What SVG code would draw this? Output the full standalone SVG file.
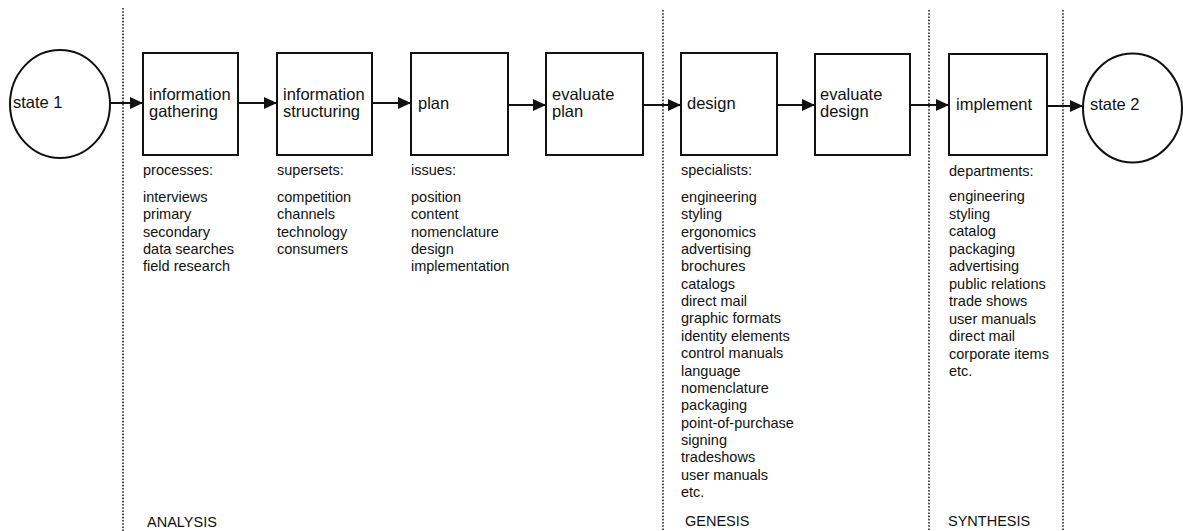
<svg xmlns="http://www.w3.org/2000/svg" width="1183" height="531" viewBox="0 0 1183 531">
<style>
  .shape { fill: #fff; stroke: #111; stroke-width: 2; }
  .lbl { font-family: "Liberation Sans", Arial, sans-serif; font-size: 16.5px; fill: #111; }
  .sm { font-family: "Liberation Sans", Arial, sans-serif; font-size: 14.5px; fill: #111; }
  .conn { stroke: #111; stroke-width: 2.2; fill: none; marker-end: url(#arr); }
  .dot { stroke: #222; stroke-width: 1.6; stroke-dasharray: 1.6 1.6; fill: none; }
</style>
<defs>
  <marker id="arr" markerUnits="userSpaceOnUse" viewBox="0 0 13 12" refX="13" refY="6" markerWidth="13" markerHeight="12" orient="auto">
    <path d="M0,0 L13,6 L0,12 z" fill="#111"/>
  </marker>
</defs>
<rect width="1183" height="531" fill="#fff"/>

<g id="dividers">
  <line class="dot" x1="123" y1="8" x2="123" y2="531"/>
  <line class="dot" x1="663" y1="10" x2="663" y2="531"/>
  <line class="dot" x1="929" y1="10" x2="929" y2="531"/>
  <line class="dot" x1="1063" y1="10" x2="1063" y2="531"/>
</g>

<g id="connectors">
  <line class="conn" x1="110" y1="103" x2="143" y2="103"/>
  <line class="conn" x1="238" y1="103" x2="277" y2="103"/>
  <line class="conn" x1="372" y1="103" x2="411" y2="103"/>
  <line class="conn" x1="508" y1="105" x2="546" y2="105"/>
  <line class="conn" x1="643" y1="105" x2="681" y2="105"/>
  <line class="conn" x1="777" y1="105" x2="815" y2="105"/>
  <line class="conn" x1="910" y1="105" x2="949" y2="105"/>
  <line class="conn" x1="1047" y1="106" x2="1083" y2="106"/>
</g>

<g id="state1">
  <ellipse class="shape" cx="60" cy="104" rx="50" ry="54"/>
  <text class="lbl" x="13" y="108">state 1</text>
</g>

<g id="info-gathering">
  <rect class="shape" x="143" y="53" width="95" height="102"/>
  <text class="lbl" x="149" y="100">information</text>
  <text class="lbl" x="149" y="117">gathering</text>
  <text class="sm" x="143" y="175">processes:</text>
  <text class="sm" x="143" y="202">
    <tspan x="143">interviews</tspan>
    <tspan x="143" dy="17.35">primary</tspan>
    <tspan x="143" dy="17.35">secondary</tspan>
    <tspan x="143" dy="17.35">data searches</tspan>
    <tspan x="143" dy="17.35">field research</tspan>
  </text>
</g>

<g id="info-structuring">
  <rect class="shape" x="277" y="53" width="95" height="102"/>
  <text class="lbl" x="283" y="100">information</text>
  <text class="lbl" x="283" y="117">structuring</text>
  <text class="sm" x="277" y="175">supersets:</text>
  <text class="sm" x="277" y="202">
    <tspan x="277">competition</tspan>
    <tspan x="277" dy="17.35">channels</tspan>
    <tspan x="277" dy="17.35">technology</tspan>
    <tspan x="277" dy="17.35">consumers</tspan>
  </text>
</g>

<g id="plan">
  <rect class="shape" x="411" y="53" width="97" height="102"/>
  <text class="lbl" x="418" y="109">plan</text>
  <text class="sm" x="411" y="175">issues:</text>
  <text class="sm" x="411" y="202">
    <tspan x="411">position</tspan>
    <tspan x="411" dy="17.35">content</tspan>
    <tspan x="411" dy="17.35">nomenclature</tspan>
    <tspan x="411" dy="17.35">design</tspan>
    <tspan x="411" dy="17.35">implementation</tspan>
  </text>
</g>

<g id="evaluate-plan">
  <rect class="shape" x="546" y="53" width="97" height="102"/>
  <text class="lbl" x="552" y="100">evaluate</text>
  <text class="lbl" x="552" y="117">plan</text>
</g>

<g id="design">
  <rect class="shape" x="681" y="53" width="96" height="102"/>
  <text class="lbl" x="687" y="109">design</text>
  <text class="sm" x="681" y="175">specialists:</text>
  <text class="sm" x="681" y="202">
    <tspan x="681">engineering</tspan>
    <tspan x="681" dy="17.35">styling</tspan>
    <tspan x="681" dy="17.35">ergonomics</tspan>
    <tspan x="681" dy="17.35">advertising</tspan>
    <tspan x="681" dy="17.35">brochures</tspan>
    <tspan x="681" dy="17.35">catalogs</tspan>
    <tspan x="681" dy="17.35">direct mail</tspan>
    <tspan x="681" dy="17.35">graphic formats</tspan>
    <tspan x="681" dy="17.35">identity elements</tspan>
    <tspan x="681" dy="17.35">control manuals</tspan>
    <tspan x="681" dy="17.35">language</tspan>
    <tspan x="681" dy="17.35">nomenclature</tspan>
    <tspan x="681" dy="17.35">packaging</tspan>
    <tspan x="681" dy="17.35">point-of-purchase</tspan>
    <tspan x="681" dy="17.35">signing</tspan>
    <tspan x="681" dy="17.35">tradeshows</tspan>
    <tspan x="681" dy="17.35">user manuals</tspan>
    <tspan x="681" dy="17.35">etc.</tspan>
  </text>
</g>

<g id="evaluate-design">
  <rect class="shape" x="815" y="54" width="95" height="101"/>
  <text class="lbl" x="820" y="100">evaluate</text>
  <text class="lbl" x="820" y="117">design</text>
</g>

<g id="implement">
  <rect class="shape" x="949" y="54" width="98" height="101"/>
  <text class="lbl" x="956" y="110">implement</text>
  <text class="sm" x="949" y="176">departments:</text>
  <text class="sm" x="949" y="201">
    <tspan x="949">engineering</tspan>
    <tspan x="949" dy="17.5">styling</tspan>
    <tspan x="949" dy="17.5">catalog</tspan>
    <tspan x="949" dy="17.5">packaging</tspan>
    <tspan x="949" dy="17.5">advertising</tspan>
    <tspan x="949" dy="17.5">public relations</tspan>
    <tspan x="949" dy="17.5">trade shows</tspan>
    <tspan x="949" dy="17.5">user manuals</tspan>
    <tspan x="949" dy="17.5">direct mail</tspan>
    <tspan x="949" dy="17.5">corporate items</tspan>
    <tspan x="949" dy="17.5">etc.</tspan>
  </text>
</g>

<g id="state2">
  <ellipse class="shape" cx="1132.5" cy="108" rx="49.5" ry="54.5"/>
  <text class="lbl" x="1090" y="110">state 2</text>
</g>

<g id="phases">
  <text class="sm" x="147" y="527">ANALYSIS</text>
  <text class="sm" x="685" y="526">GENESIS</text>
  <text class="sm" x="948" y="526">SYNTHESIS</text>
</g>
</svg>
